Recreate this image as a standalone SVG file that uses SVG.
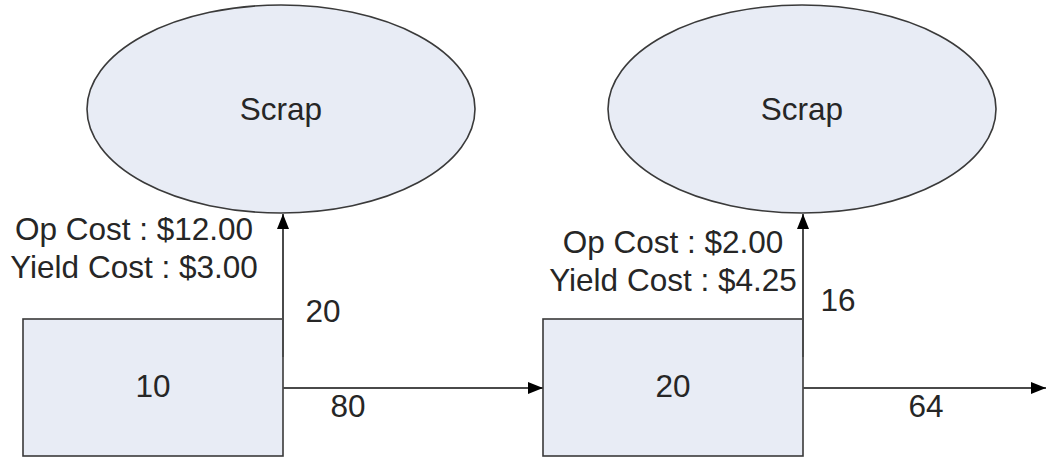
<svg xmlns="http://www.w3.org/2000/svg" width="1050" height="458" viewBox="0 0 1050 458">
<style>
.node{fill:#E8ECF5;stroke:#3a3a3a;stroke-width:1.6}
.t{font-family:"Liberation Sans",Arial,sans-serif;font-size:31.5px;fill:#262626}
.c{text-anchor:middle}
.conn{stroke:#4a4a4a;stroke-width:2;fill:none;marker-end:url(#ah)}
</style>
<defs>
<marker id="ah" markerUnits="userSpaceOnUse" markerWidth="16" markerHeight="12" refX="15" refY="6" orient="auto">
<path d="M0,0 L15,6 L0,12 Z" fill="#000"/>
</marker>
</defs>
<rect width="1050" height="458" fill="#fff"/>
<g id="scrap1">
<ellipse class="node" cx="281" cy="109" rx="194" ry="104"/>
<text class="t c" x="281" y="120">Scrap</text>
</g>
<g id="scrap2">
<ellipse class="node" cx="802" cy="109" rx="194" ry="104"/>
<text class="t c" x="802" y="120">Scrap</text>
</g>
<g id="op1">
<rect class="node" x="23" y="319" width="260" height="137"/>
<text class="t c" x="153" y="397">10</text>
</g>
<g id="op2">
<rect class="node" x="543" y="319" width="260" height="137"/>
<text class="t c" x="673" y="397">20</text>
</g>
<g id="connectors">
<line class="conn" x1="283" y1="357" x2="283" y2="214"/>
<line class="conn" x1="283" y1="388" x2="543" y2="388"/>
<line class="conn" x1="803" y1="357" x2="803" y2="214"/>
<line class="conn" x1="803" y1="388" x2="1046" y2="388"/>
</g>
<g id="labels">
<text class="t c" x="134" y="240">Op Cost : $12.00</text>
<text class="t c" x="134" y="278">Yield Cost : $3.00</text>
<text class="t c" x="323" y="322">20</text>
<text class="t c" x="348" y="417">80</text>
<text class="t c" x="673" y="253">Op Cost : $2.00</text>
<text class="t c" x="673" y="291">Yield Cost : $4.25</text>
<text class="t c" x="838" y="311">16</text>
<text class="t c" x="926" y="417">64</text>
</g>
</svg>
